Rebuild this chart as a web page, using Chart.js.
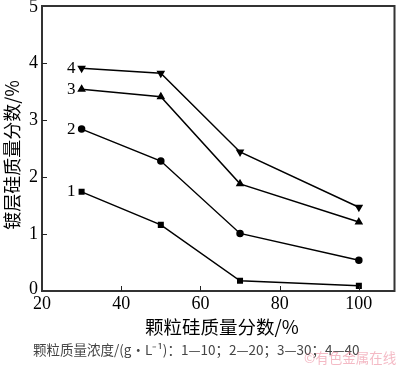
<!DOCTYPE html>
<html>
<head>
<meta charset="utf-8">
<script src="https://cdn.jsdelivr.net/npm/chart.js@4/dist/chart.umd.min.js"></script>
<style>
  html, body { margin: 0; padding: 0; background: #fff; }
  #wrap { width: 400px; height: 365px; position: relative; }
</style>
</head>
<body>
<div id="wrap"><canvas id="chart"></canvas></div>
<script>
// 颗粒硅质量分数 (x) 与 镀层硅质量分数 (y)
const xValues = [30, 50, 70, 100];
const series1 = [1.74, 1.16, 0.18, 0.09];
const series2 = [2.84, 2.28, 1.01, 0.54];
const series3 = [3.54, 3.41, 1.88, 1.21];
const series4 = [3.91, 3.82, 2.44, 1.47];
const seriesLabels = ['1', '2', '3', '4'];
const xTicks = [20, 40, 60, 80, 100];
const yTicks = [0, 1, 2, 3, 4, 5];

const serif = '"Liberation Serif", "DejaVu Serif", serif';
const cjk = '"Noto Sans CJK SC", sans-serif';

function toPoints(ys) {
    return xValues.map((x, i) => ({ x: x, y: ys[i] }));
}

function makeSet(label, ys, style, rot, r) {
    return {
        label: label,
        data: toPoints(ys),
        borderColor: '#000',
        backgroundColor: '#000',
        borderWidth: 1.5,
        pointStyle: style,
        pointRotation: rot || 0,
        pointRadius: r || 3,
        showLine: true,
        tension: 0
    };
}

// рамка, засечки внутрь и подписи
const decorPlugin = {
    id: 'decor',
    afterDraw(chart) {
        const ctx = chart.ctx;
        const a = chart.chartArea;
        const xs = chart.scales.x;
        const ys = chart.scales.y;
        ctx.save();
        ctx.strokeStyle = '#333';
        ctx.lineWidth = 2;
        ctx.beginPath();
        ctx.moveTo(a.left, a.top);
        ctx.lineTo(a.right, a.top);
        ctx.lineTo(a.right, a.bottom);
        ctx.lineTo(a.left, a.bottom);
        ctx.closePath();
        ctx.stroke();

        ctx.lineWidth = 1;
        ctx.strokeStyle = '#222';
        ctx.beginPath();
        xTicks.forEach(v => {
            const px = Math.round(xs.getPixelForValue(v)) + 0.5;
            if (px <= a.left + 2) return;
            ctx.moveTo(px, a.bottom);
            ctx.lineTo(px, a.bottom - 5);
        });
        yTicks.forEach(v => {
            const py = Math.round(ys.getPixelForValue(v)) + 0.5;
            if (py >= a.bottom - 2 || py <= a.top + 2) return;
            ctx.moveTo(a.left, py);
            ctx.lineTo(a.left + 5, py);
        });
        ctx.stroke();

        // подписи делений
        ctx.fillStyle = '#000';
        ctx.font = '18px ' + serif;
        ctx.textAlign = 'center';
        ctx.textBaseline = 'middle';
        xTicks.forEach(v => {
            ctx.fillText(String(v), xs.getPixelForValue(v), a.bottom + 13);
        });
        ctx.textAlign = 'right';
        yTicks.forEach(v => {
            ctx.fillText(String(v), a.left - 4, ys.getPixelForValue(v) - (v === 0 ? 2 : 0) + (v === 5 ? 1 : 0));
        });

        // номера кривых
        ctx.font = '17px ' + serif;
        chart.data.datasets.forEach((ds, i) => {
            const p = ds.data[0];
            ctx.fillText(seriesLabels[i], xs.getPixelForValue(p.x) - 6, ys.getPixelForValue(p.y));
        });

        // подпись оси Y
        ctx.save();
        ctx.translate(12, 155);
        ctx.rotate(-Math.PI / 2);
        ctx.textAlign = 'center';
        ctx.font = '18px ' + cjk;
        ctx.fillText('镀层硅质量分数/%', 0, 0);
        ctx.restore();

        // подпись оси X
        ctx.textAlign = 'center';
        ctx.font = '18.5px ' + cjk;
        ctx.fillText('颗粒硅质量分数/%', 222, 327);

        // примечание
        ctx.textAlign = 'left';
        ctx.fillStyle = '#444';
        ctx.font = '13.5px ' + cjk;
        ctx.fillText('颗粒质量浓度/(g·L⁻¹)：1—10；2—20；3—30；4—40', 33, 350);

        // водяной знак
        ctx.fillStyle = 'rgba(235, 130, 150, 0.55)';
        ctx.font = '13.5px ' + cjk;
        ctx.fillText('©有色金属在线', 304, 358);
        ctx.restore();
    }
};

new Chart(document.getElementById('chart'), {
    type: 'scatter',
    data: {
        datasets: [
            makeSet(seriesLabels[0], series1, 'rect', 0, 3.2),
            makeSet(seriesLabels[1], series2, 'circle', 0, 3),
            makeSet(seriesLabels[2], series3, 'triangle', 0, 3.5),
            makeSet(seriesLabels[3], series4, 'triangle', 180, 3.5)
        ]
    },
    options: {
        responsive: true,
        maintainAspectRatio: false,
        animation: false,
        layout: { padding: { top: 6, right: 3, left: 0, bottom: 0 } },
        plugins: {
            legend: { display: false },
            tooltip: { enabled: false }
        },
        scales: {
            x: {
                type: 'linear',
                min: 20,
                max: 109,
                afterBuildTicks(scale) {
                    scale.ticks = xTicks.map(v => ({ value: v }));
                },
                afterFit(scale) { scale.height = 74; },
                grid: { display: false },
                border: { display: false },
                ticks: { display: false }
            },
            y: {
                min: 0,
                max: 5,
                afterBuildTicks(scale) {
                    scale.ticks = yTicks.map(v => ({ value: v }));
                },
                afterFit(scale) { scale.width = 42; },
                grid: { display: false },
                border: { display: false },
                ticks: { display: false }
            }
        }
    },
    plugins: [decorPlugin]
});
</script>
</body>
</html>
